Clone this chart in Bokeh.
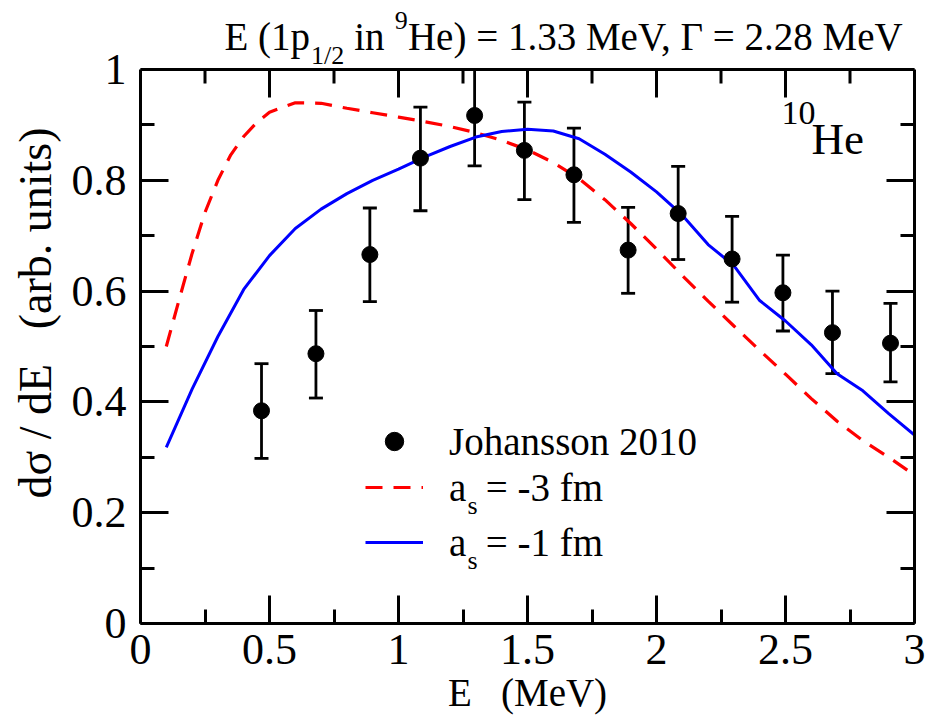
from bokeh.plotting import figure
from bokeh.models import (FixedTicker, LinearAxis, Range1d, Whisker, TeeHead,
                          ColumnDataSource, Legend, LegendItem, Span,
                          CustomJSTickFormatter)
from bokeh.core.properties import value
from bokeh.embed import file_html
from bokeh.resources import INLINE

# ---------------- data ----------------
exp_e = [0.469, 0.680, 0.889, 1.085, 1.295, 1.488, 1.680, 1.890, 2.084, 2.293, 2.490, 2.682, 2.907]
exp_y = [0.384, 0.487, 0.666, 0.840, 0.917, 0.854, 0.810, 0.674, 0.740, 0.658, 0.597, 0.525, 0.506]
exp_lo = [0.298, 0.407, 0.581, 0.745, 0.826, 0.765, 0.724, 0.596, 0.657, 0.580, 0.528, 0.451, 0.436]
exp_hi = [0.469, 0.565, 0.750, 0.932, 1.000, 0.941, 0.894, 0.751, 0.825, 0.735, 0.665, 0.600, 0.578]

red_e = [0.1, 0.15, 0.2, 0.25, 0.3, 0.35, 0.4, 0.45, 0.5, 0.6, 0.7, 0.8, 0.9, 1.0,
         1.1, 1.2, 1.3, 1.4, 1.5, 1.6, 1.7, 1.8, 1.9, 2.0, 2.1, 2.2, 2.3, 2.4,
         2.5, 2.6, 2.7, 2.8, 2.9, 3.0]
red_y = [0.500, 0.585, 0.668, 0.742, 0.800, 0.846, 0.879, 0.904, 0.923, 0.940, 0.939,
         0.930, 0.922, 0.914, 0.906, 0.897, 0.886, 0.872, 0.855, 0.832, 0.803, 0.765,
         0.722, 0.676, 0.628, 0.582, 0.537, 0.493, 0.450, 0.406, 0.365, 0.330, 0.300, 0.268]

blue_e = [0.1, 0.2, 0.3, 0.4, 0.5, 0.6, 0.7, 0.8, 0.9, 1.0, 1.1, 1.2, 1.3, 1.4, 1.5,
          1.6, 1.7, 1.8, 1.9, 2.0, 2.1, 2.2, 2.3, 2.4, 2.5, 2.6, 2.7, 2.8, 2.9, 3.0]
blue_y = [0.318, 0.423, 0.518, 0.603, 0.664, 0.713, 0.748, 0.776, 0.800, 0.820, 0.842,
          0.861, 0.878, 0.888, 0.892, 0.889, 0.875, 0.847, 0.815, 0.779, 0.737, 0.684,
          0.646, 0.583, 0.546, 0.503, 0.451, 0.420, 0.379, 0.340]

x_ticks = [0, 0.5, 1, 1.5, 2, 2.5, 3]
x_tick_labels = ["0", "0.5", "1", "1.5", "2", "2.5", "3"]
x_minor = [0.25, 0.75, 1.25, 1.75, 2.25, 2.75]
y_ticks = [0, 0.2, 0.4, 0.6, 0.8, 1.0]
y_tick_labels = ["0", "0.2", "0.4", "0.6", "0.8", "1"]
y_minor = [0.1, 0.3, 0.5, 0.7, 0.9]

X_MAX, Y_MAX = 3.0, 1.0

FONT = "Liberation Serif"

# ---------------- geometry (page pixels) ----------------
FL, FT, FB, FR = 140, 69, 623, 914      # visible box: left, top(y=1), bottom(y=0), right
CANVAS_TOP = 2                          # frame extends above y=1 to hold the title
PX_X = (FR - FL) / X_MAX                # pixels per x unit
PX_Y = (FB - FT) / Y_MAX                # pixels per y unit
Y_TOP = Y_MAX + (FT - CANVAS_TOP) / PX_Y
BASE_K = 0.30                           # baseline correction (fraction of font size)

WID = {' ': 250, '\u00a0': 250, '(': 333, ')': 333, '.': 250, ',': 250, '/': 278,
       '=': 564, 'E': 611, 'H': 722, 'M': 889, 'V': 722, 'e': 444, 'i': 278,
       'n': 500, 'p': 500, '\u0393': 578, 's': 389}


def text_width(s, size):
    return sum(WID.get(c, 500) for c in s) * size / 1000.0


def to_data(px, py):
    return (px - FL) / PX_X, (FB - py) / PX_Y


p = figure(frame_width=FR - FL, frame_height=FB - CANVAS_TOP,
           x_range=Range1d(0, X_MAX), y_range=Range1d(0, Y_TOP),
           output_backend="svg", toolbar_location=None,
           min_border_left=FL, min_border_right=925 - FR, min_border_top=CANVAS_TOP,
           min_border_bottom=96)
p.xgrid.visible = False
p.ygrid.visible = False
p.outline_line_color = None
p.background_fill_color = "white"
p.border_fill_color = "white"


def style_axis(ax, ticks, minor):
    ax.ticker = FixedTicker(ticks=ticks, minor_ticks=minor)
    ax.axis_line_width = 3
    ax.axis_line_color = "black"
    ax.major_tick_in = 28
    ax.major_tick_out = 0
    ax.minor_tick_in = 14
    ax.minor_tick_out = 0
    ax.major_tick_line_width = 3
    ax.minor_tick_line_width = 3
    ax.major_tick_line_color = "black"
    ax.minor_tick_line_color = "black"
    ax.major_label_text_font = FONT
    ax.major_label_text_font_size = "44px"
    ax.major_label_text_color = "black"
    ax.axis_label_text_font = FONT
    ax.axis_label_text_font_style = "normal"
    ax.axis_label_text_color = "black"


xa = p.xaxis[0]
style_axis(xa, x_ticks, x_minor)
xa.major_label_overrides = {t: s for t, s in zip(x_ticks, x_tick_labels)}
xa.major_label_standoff = 11
xa.axis_label = "E\u00a0\u00a0\u00a0(MeV)"
xa.axis_label_text_font_size = "39px"
xa.axis_label_standoff = 4

ya = p.yaxis[0]
style_axis(ya, y_ticks, y_minor)
ya.bounds = (0, Y_MAX)
ya.major_label_overrides = {t: s for t, s in zip(y_ticks, y_tick_labels)}
ya.major_label_standoff = 14
ya.axis_label = "d\u03c3 / dE\u00a0\u00a0\u00a0(arb. units)"
ya.axis_label_text_font_size = "46px"
ya.axis_label_standoff = 8

right = LinearAxis(formatter=CustomJSTickFormatter(code="return ''"))
style_axis(right, y_ticks, y_minor)
right.bounds = (0, Y_MAX)
right.major_label_standoff = 0
right.major_label_text_font_size = "1px"
p.add_layout(right, "right")

# top edge of the box (y = 1) with inward ticks
p.add_layout(Span(location=Y_MAX, dimension="width", line_color="black", line_width=3))
p.segment(x0=x_ticks, y0=[Y_MAX] * len(x_ticks), x1=x_ticks,
          y1=[Y_MAX - 28 / PX_Y] * len(x_ticks), line_color="black", line_width=3)
p.segment(x0=x_minor, y0=[Y_MAX] * len(x_minor), x1=x_minor,
          y1=[Y_MAX - 14 / PX_Y] * len(x_minor), line_color="black", line_width=3)

# ---------------- data renderers ----------------
r_red = p.line(red_e, red_y, line_color="#ff0000", line_width=3.2, line_dash="17 11")
r_blue = p.line(blue_e, blue_y, line_color="#0000ff", line_width=3)

src = ColumnDataSource(dict(x=exp_e, y=exp_y, lo=exp_lo, hi=exp_hi))
p.add_layout(Whisker(source=src, base="x", lower="lo", upper="hi", dimension="height",
                     line_width=2.8, line_color="black",
                     lower_head=TeeHead(size=14, line_width=2.8, line_color="black"),
                     upper_head=TeeHead(size=14, line_width=2.8, line_color="black")))
r_exp = p.scatter("x", "y", source=src, size=16, marker="circle",
                  fill_color="black", line_color="black")


# ---------------- legend (three single-row legends) ----------------
def add_legend(label, rend, center_py):
    bottom = center_py + 23
    lg = Legend(items=[LegendItem(label=label, renderers=[rend])],
                location=(365 - FL, FB - bottom),
                glyph_width=58, glyph_height=46, label_standoff=26,
                padding=0, margin=0, spacing=0,
                label_text_font=FONT, label_text_font_size="39px",
                label_text_color="black", label_text_baseline="middle",
                border_line_color=None, background_fill_alpha=0)
    p.add_layout(lg)


add_legend("Johansson 2010", r_exp, 441)
add_legend("a\u00a0\u00a0= -3 fm", r_red, 487)
add_legend("a\u00a0\u00a0= -1 fm", r_blue, 542)


def add_text(txt, px, py, size):
    x, y = to_data(px, py - BASE_K * size)
    p.text(x=[x], y=[y], text=[txt], text_font=value(FONT),
           text_font_size=value(f"{size}px"), text_color="black",
           text_align="left", text_baseline="alphabetic")


# title above the box
title_pieces = [("E (1p", 39, 0), ("1/2", 26, 15), ("\u00a0in\u00a0", 39, 0), ("9", 26, -20),
                ("He) = 1.33 MeV, \u0393 = 2.28 MeV", 39, 0)]
tx = 224.0
for txt, size, dy in title_pieces:
    add_text(txt, tx, 48 + dy, size)
    tx += text_width(txt, size) * 1.01

# 10He
add_text("10", 781, 123, 34)
add_text("He", 811, 152, 45)

# legend subscripts
add_text("s", 467, 513, 26)
add_text("s", 467, 568, 26)

open("out.html", "w").write(file_html(p, INLINE))
